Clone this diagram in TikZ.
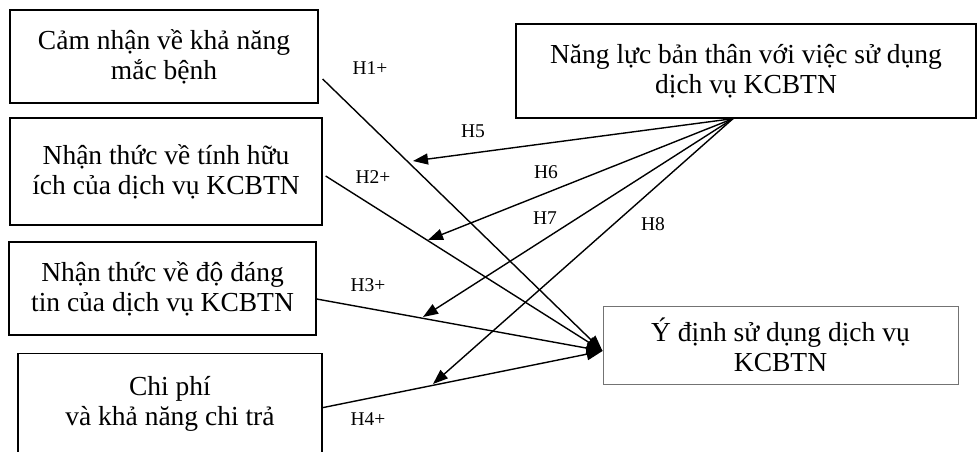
\documentclass[tikz,border=0pt]{standalone}
\usepackage{fontspec}
\setmainfont{Liberation Serif}
\usetikzlibrary{arrows.meta,calc}
\begin{document}
\begin{tikzpicture}[x=1pt,y=-1pt,
  box/.style={draw=black,line width=1.3pt,inner sep=0pt,align=center,
    font=\fontsize{27.5}{30}\selectfont},
  txt/.style={inner sep=0pt,align=center,font=\fontsize{27.5}{30}\selectfont},
  lbl/.style={inner sep=0pt,font=\fontsize{19.5}{22}\selectfont},
  main/.style={line width=1.4pt,-{Triangle[length=16pt,width=12pt]}},
  mod/.style={line width=1.4pt,-{Triangle[length=15pt,width=11pt]}}]
\useasboundingbox (0,0) rectangle (977,452);
\node[box,minimum width=308pt,minimum height=93pt] (b1) at (164,56.5) {Cảm nhận về khả năng\\mắc bệnh};
\node[box,minimum width=312pt,minimum height=107pt] (b2) at (166,171.5) {Nhận thức về tính hữu\\ích của dịch vụ KCBTN};
\node[box,minimum width=307pt,minimum height=93pt] (b3) at (162.5,288.5) {Nhận thức về độ đáng\\tin của dịch vụ KCBTN};
\node[box,minimum width=304pt,minimum height=120pt,anchor=north] (b4) at (170,353) {};
\node[txt] (b4t) at (170,404) {Chi phí\\và khả năng chi trả};
\node[box,minimum width=460pt,minimum height=94pt] (b5) at (746,71) {Năng lực bản thân với việc sử dụng\\dịch vụ KCBTN};
\node[box,draw=black!55,line width=1pt,minimum width=355pt,minimum height=78pt] (b6) at (780.5,345) {Ý định sử dụng dịch vụ\\KCBTN};
% connector points
\coordinate (s1) at ($(b1.east)+(4,22.5)$);
\coordinate (s2) at ($(b2.east)+(3,4.5)$);
\coordinate (s3) at ($(b3.east)+(0,10.5)$);
\coordinate (s4) at ($(b4.east)+(0,-6)$);
\coordinate (t) at ($(b6.west)+(0,6)$);
\coordinate (src) at ($(b5.south)+(-13,0)$);
\coordinate (e5) at (413,161);
\coordinate (e6) at (428,240);
\coordinate (e7) at (423,317);
\coordinate (e8) at (433,384);
\draw[main] (s1) -- (t);
\draw[main] (s2) -- (t);
\draw[main] (s3) -- (t);
\draw[main] (s4) -- (t);
\draw[mod] (src) -- (e5);
\draw[mod] (src) -- (e6);
\draw[mod] (src) -- (e7);
\draw[mod] (src) -- (e8);
\node[lbl] (l1) at (370,68) {H1+};
\node[lbl] (l2) at (373,177) {H2+};
\node[lbl] (l3) at (368,285) {H3+};
\node[lbl] (l4) at (368,419) {H4+};
\node[lbl] (l5) at (473,131) {H5};
\node[lbl] (l6) at (546,172) {H6};
\node[lbl] (l7) at (545,218) {H7};
\node[lbl] (l8) at (653,224) {H8};
\end{tikzpicture}
\end{document}
